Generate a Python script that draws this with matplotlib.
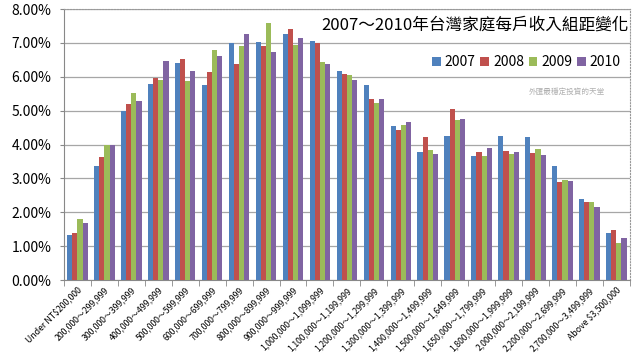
"""2007~2010 Taiwan household income distribution, grouped bars."""

import numpy as np
from matplotlib import pyplot as plt
from matplotlib.ticker import PercentFormatter, FixedLocator

plt.rcParams['font.family'] = ['Noto Sans CJK TC', 'DejaVu Sans']

categories = [
    'Under NT$200,000', '200,000～299,999', '300,000～399,999',
    '400,000～499,999', '500,000～599,999', '600,000～699,999',
    '700,000～799,999', '800,000～899,999', '900,000～999,999',
    '1,000,000～1,099,999', '1,100,000～1,199,999', '1,200,000～1,299,999',
    '1,300,000～1,399,999', '1,400,000～1,499,999', '1,500,000～1,649,999',
    '1,650,000～1,799,999', '1,800,000～1,999,999', '2,000,000～2,199,999',
    '2,200,000～2,699,999', '2,700,000～3,499,999', 'Above $3,500,000',
]
years = ['2007', '2008', '2009', '2010']
v2007 = [1.34, 3.37, 5.00, 5.80, 6.42, 5.76, 7.01, 7.03, 7.25, 7.06, 6.18,
         5.76, 4.55, 3.78, 4.24, 3.65, 4.24, 4.22, 3.37, 2.39, 1.40]
v2008 = [1.38, 3.64, 5.19, 5.95, 6.54, 6.15, 6.39, 6.91, 7.42, 7.01, 6.09,
         5.35, 4.44, 4.22, 5.05, 3.78, 3.81, 3.76, 2.90, 2.30, 1.48]
v2009 = [1.80, 3.98, 5.51, 5.91, 5.87, 6.79, 6.90, 7.59, 6.93, 6.43, 6.05,
         5.23, 4.59, 3.85, 4.72, 3.66, 3.73, 3.87, 2.96, 2.30, 1.09]
v2010 = [1.69, 3.98, 5.28, 6.46, 6.17, 6.60, 7.25, 6.72, 7.14, 6.38, 5.92,
         5.35, 4.67, 3.72, 4.76, 3.90, 3.77, 3.68, 2.93, 2.15, 1.24]
colors = ['#4F81BD', '#C0504D', '#9BBB59', '#8064A2']

fig = plt.figure(figsize=(6.4, 3.61), dpi=100)
ax = fig.add_axes([0.1, 0.224, 0.884, 0.751])

x = np.arange(len(categories))
width = 0.19
for i, (vals, col, yr) in enumerate(zip([v2007, v2008, v2009, v2010], colors, years)):
    ax.bar(x + (i - 1.5) * width, vals, width, color=col, label=yr, zorder=3)

ax.set_xlim(-0.5, len(categories) - 0.5)
ax.set_ylim(0, 8)
ax.set_yticks(np.arange(0, 8.01, 1))
ax.yaxis.set_major_formatter(PercentFormatter(decimals=2))
ax.tick_params(axis='y', labelsize=10, length=3, color='#888888', pad=6)
ax.grid(axis='y', color='#a6a6a6', lw=0.9, zorder=0)

ax.set_xticks(x)
ax.set_xticklabels(categories, rotation=45, ha='right', rotation_mode='anchor',
                   fontsize=6.3)
ax.tick_params(axis='x', which='major', length=0, pad=4)
ax.xaxis.set_minor_locator(FixedLocator(np.arange(-0.5, len(categories), 1)))
ax.tick_params(axis='x', which='minor', length=4, color='#888888')

for side in ['top', 'right']:
    ax.spines[side].set_linestyle(':')
    ax.spines[side].set_color('#999999')
for side in ['left', 'bottom']:
    ax.spines[side].set_color('#888888')

fig.text(0.742, 0.93, '2007～2010年台灣家庭每戶收入組距變化', fontsize=12,
         ha='center', va='center')
fig.legend(loc='center right', bbox_to_anchor=(0.985, 0.828), ncol=4,
           frameon=False, fontsize=10, handlelength=0.6, handleheight=0.6,
           handletextpad=0.3, columnspacing=0.35, borderpad=0.2)
fig.text(0.885, 0.745, '外匯最穩定投資的天堂', fontsize=5.5, color='#b0b0b0',
         ha='center', va='center')

plt.savefig('out.png')
